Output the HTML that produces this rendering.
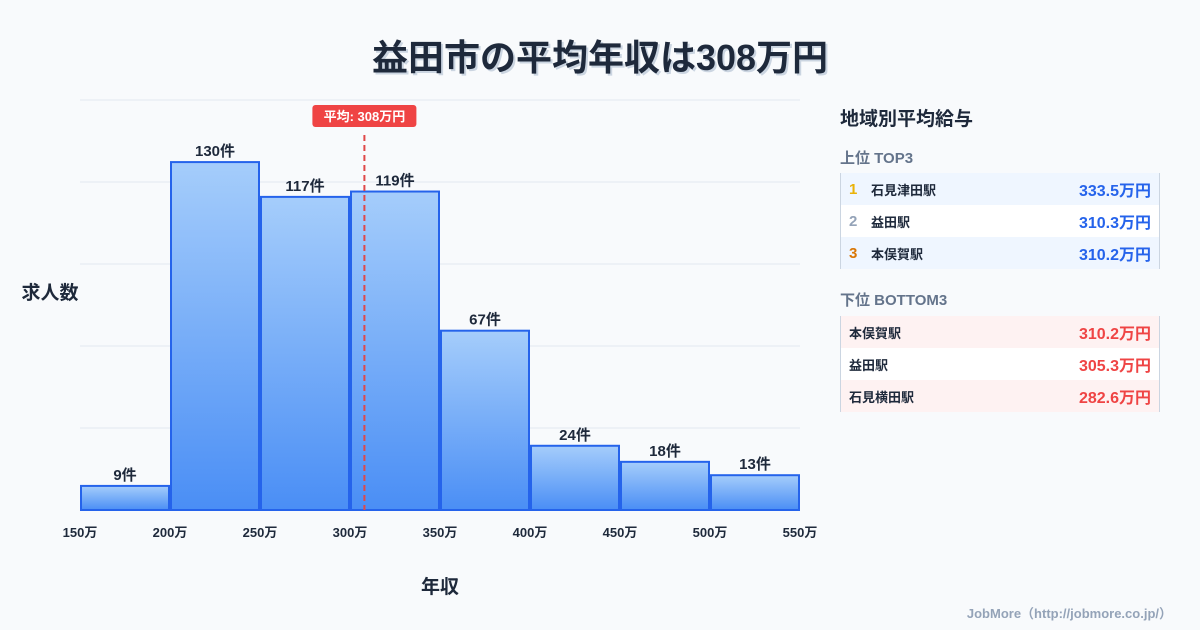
<!DOCTYPE html>
<html><head><meta charset="utf-8"><style>
body{margin:0;width:1200px;height:630px;background:#f8fafc;font-family:"Liberation Sans","Noto Sans CJK JP",sans-serif;overflow:hidden;position:relative;color:#1e293b}
.title{position:absolute;top:29px;left:0;width:1200px;text-align:center;font-size:36px;font-weight:bold;color:#1e293b;text-shadow:2px 2px 0 #cbd5e1}
.panel{position:absolute;left:840px;top:100px;width:320px}
.ph{font-size:19px;font-weight:bold;margin:4px 0 0}
.sh{font-size:15px;font-weight:bold;color:#64748b;margin-top:16px;height:22px}
.sh2{margin-top:20px}
.tbl{margin-top:4px;border-left:1px solid #cbd5e1;border-right:1px solid #cbd5e1}
.tbl.bot{margin-top:5px}
.row{height:32px;display:flex;align-items:center;font-size:13px;font-weight:bold;padding:0 8px 0 8px}
.row .rk{width:22px;font-size:15px}
.row .nm{flex:1}
.row .v{font-size:16px}
.top .row:nth-child(odd){background:#eff6ff}.top .row:nth-child(even){background:#fff}
.bot .row:nth-child(odd){background:#fef2f2}.bot .row:nth-child(even){background:#fff}
.top .v{color:#2563eb}.bot .v{color:#ef4444}
.foot{position:absolute;right:28px;bottom:8px;font-size:13px;color:#94a3b8;font-weight:bold}
</style></head><body>
<div class="title">益田市の平均年収は308万円</div>
<svg id="chart" width="830" height="630" style="position:absolute;left:0;top:0"></svg>
<div class="panel">
<div class="ph">地域別平均給与</div>
<div class="sh">上位 TOP3</div>
<div class="tbl top">
<div class="row"><span class="rk" style="color:#eab308">1</span><span class="nm">石見津田駅</span><span class="v">333.5万円</span></div>
<div class="row"><span class="rk" style="color:#94a3b8">2</span><span class="nm">益田駅</span><span class="v">310.3万円</span></div>
<div class="row"><span class="rk" style="color:#d97706">3</span><span class="nm">本俣賀駅</span><span class="v">310.2万円</span></div>
</div>
<div class="sh sh2">下位 BOTTOM3</div>
<div class="tbl bot">
<div class="row"><span class="nm">本俣賀駅</span><span class="v">310.2万円</span></div>
<div class="row"><span class="nm">益田駅</span><span class="v">305.3万円</span></div>
<div class="row"><span class="nm">石見横田駅</span><span class="v">282.6万円</span></div>
</div></div>
<div class="foot">JobMore（http://jobmore.co.jp/）</div>
<script>
const binStarts=[150,200,250,300,350,400,450,500];
const counts=[9,130,117,119,67,24,18,13];
const xTicks=[150,200,250,300,350,400,450,500,550];
const meanValue=308;
const yMax=153.2;
const NS="http://www.w3.org/2000/svg";
const svg=document.getElementById('chart');
const X0=80,X1=800,Y0=510,Y1=100;
const xs=v=>X0+(v-150)/400*(X1-X0);
const ys=v=>Y0-v/yMax*(Y0-Y1);
function mk(t,a){const e=document.createElementNS(NS,t);for(const k in a)e.setAttribute(k,a[k]);svg.appendChild(e);return e;}
const defs=mk('defs',{});
defs.innerHTML='<linearGradient id="g" x1="0" y1="0" x2="0" y2="1"><stop offset="0" stop-color="#a5cdfb"/><stop offset="1" stop-color="#4a8ef5"/></linearGradient>';
for(let i=0;i<=5;i++){const y=Y0-i*(Y0-Y1)/5;const l=mk('line',{x1:X0,x2:X1,y1:y,y2:y,stroke:'#e2e8f0','stroke-width':1});
}
counts.forEach((c,i)=>{const xa=xs(binStarts[i])+1,xb=xs(binStarts[i]+50)-1;
const r=mk('rect',{x:xa,y:ys(c),width:xb-xa,height:Y0-ys(c),fill:'url(#g)',stroke:'#2563eb','stroke-width':2});

const t=mk('text',{x:(xa+xb)/2,y:ys(c)-6,'text-anchor':'middle','font-size':15,'font-weight':'bold',fill:'#1e293b'});t.textContent=c+'件';
});
xTicks.forEach(v=>{const t=mk('text',{x:xs(v),y:537,'text-anchor':'middle','font-size':13,'font-weight':'bold',fill:'#1e293b'});t.textContent=v+'万';
});
const mx=xs(meanValue);
const ml=mk('line',{x1:mx,x2:mx,y1:135,y2:Y0,stroke:'#e04848','stroke-width':2,'stroke-dasharray':'6,4'});

const mb=mk('rect',{x:mx-52,y:105,width:104,height:22,rx:3,fill:'#ef4444'});

const mt=mk('text',{x:mx,y:121,'text-anchor':'middle','font-size':13,'font-weight':'bold',fill:'#fff'});mt.textContent='平均: '+meanValue+'万円';

const yt=mk('text',{x:50,y:299,'text-anchor':'middle','font-size':19,'font-weight':'bold',fill:'#1e293b'});yt.textContent='求人数';

const xt=mk('text',{x:440,y:593,'text-anchor':'middle','font-size':19,'font-weight':'bold',fill:'#1e293b'});xt.textContent='年収';

</script>
</body></html>
